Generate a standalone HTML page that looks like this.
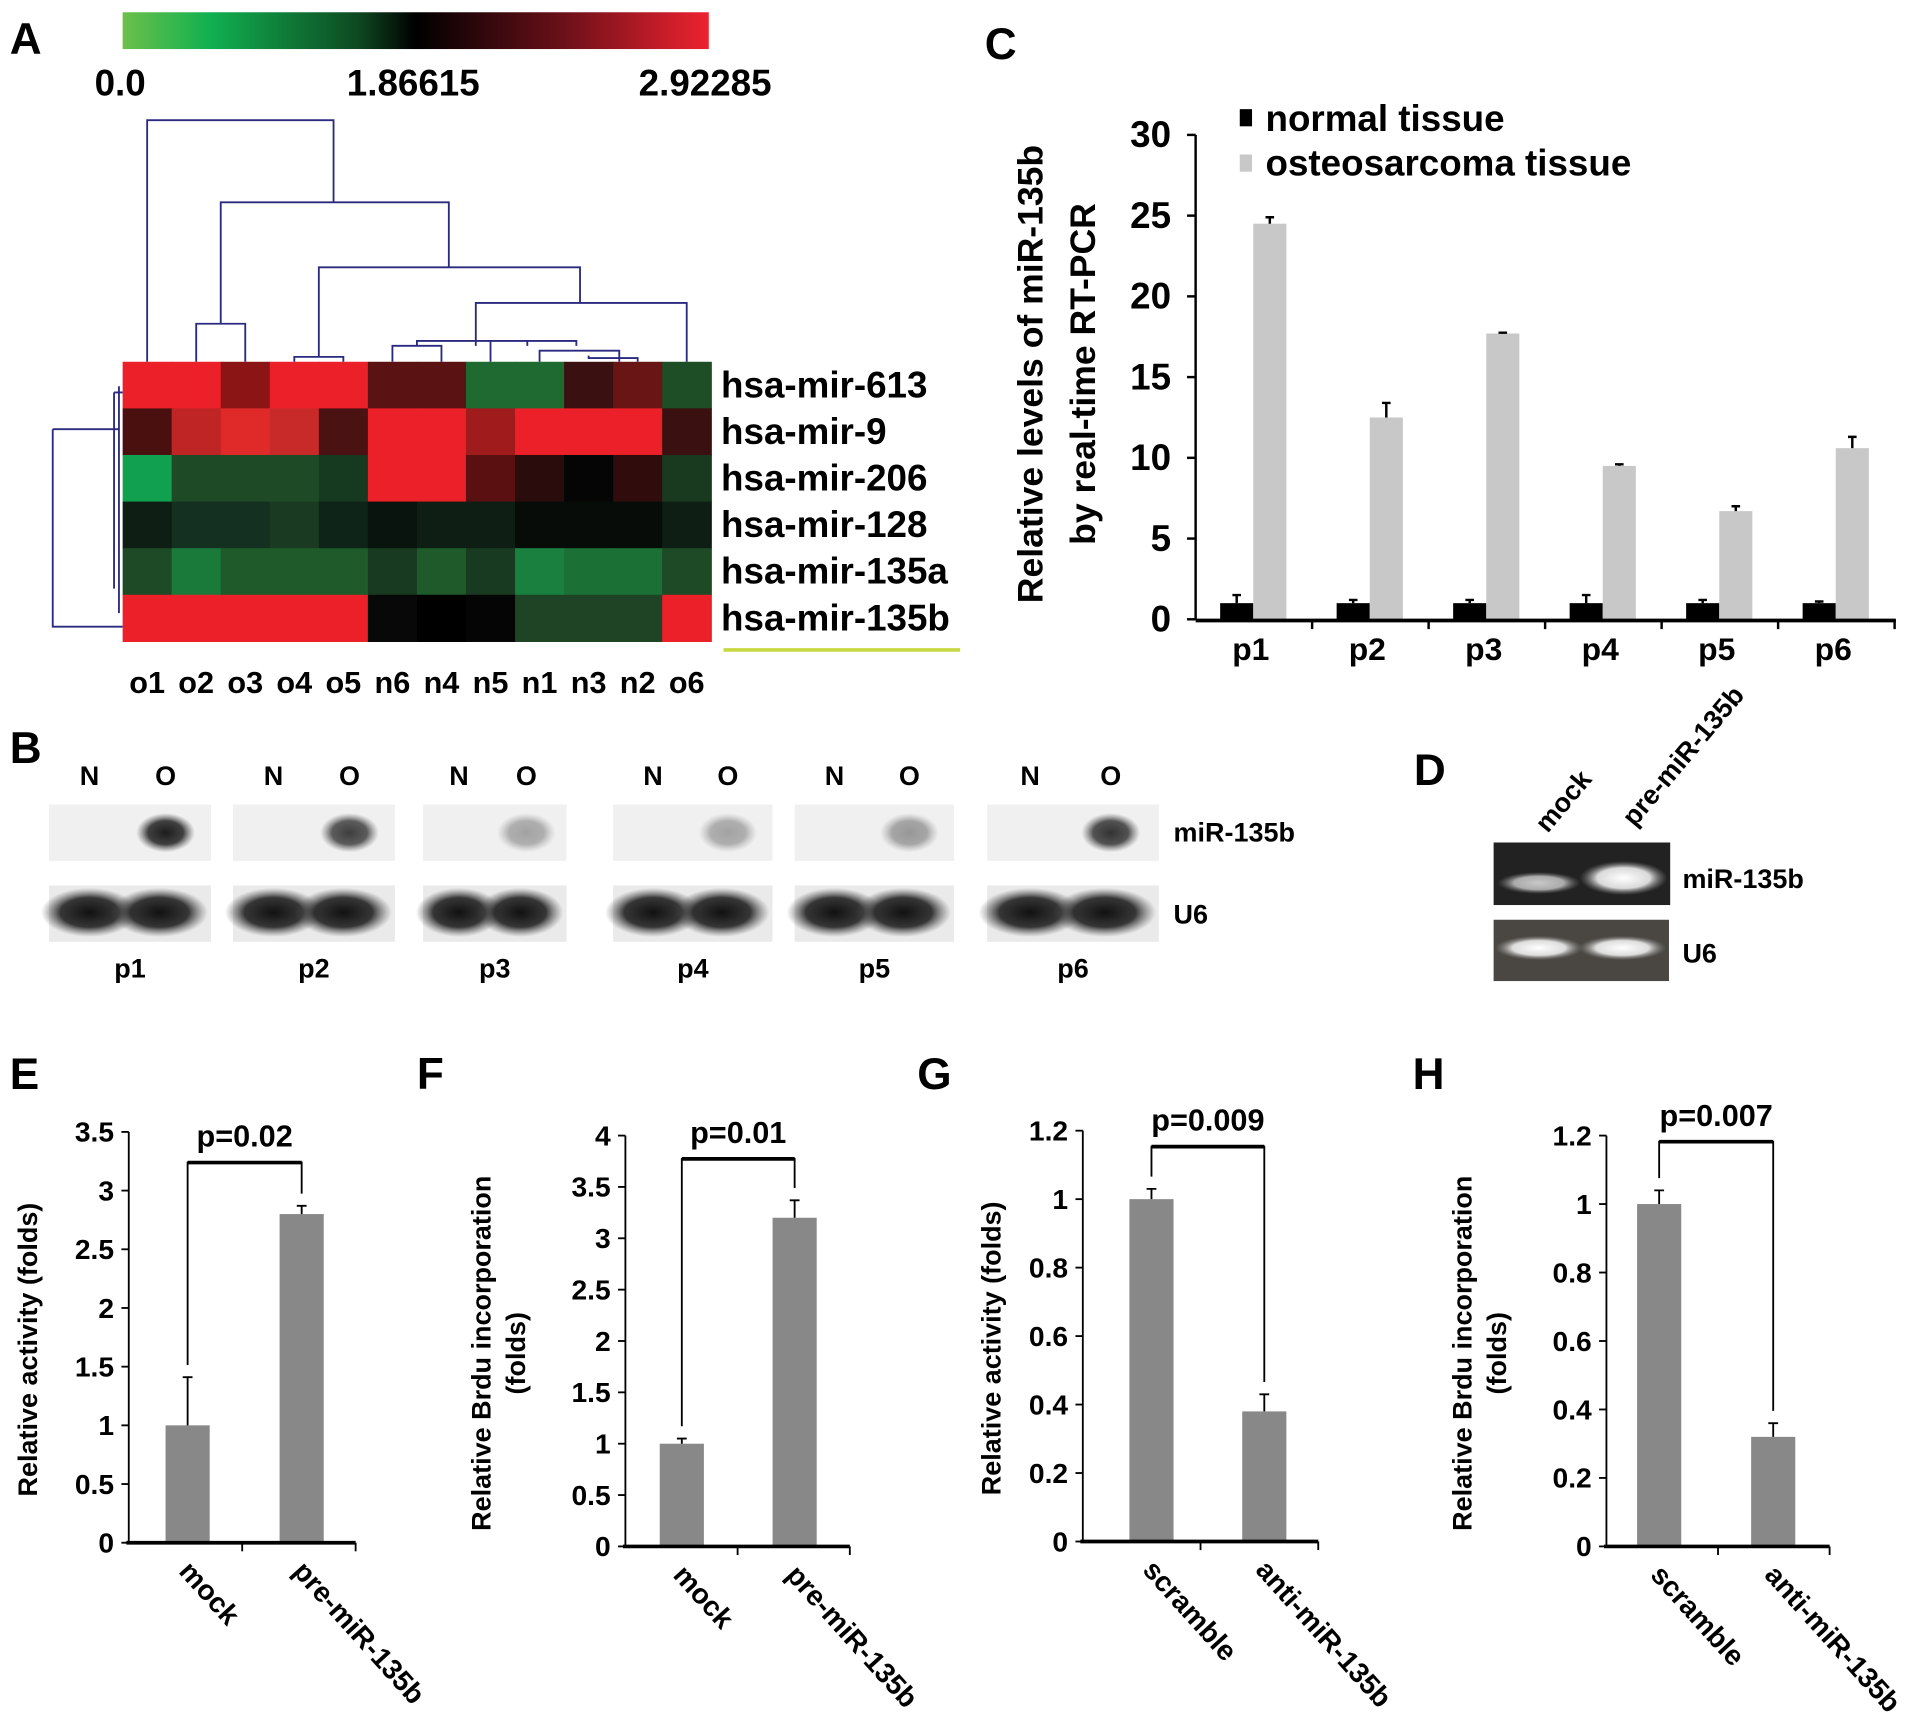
<!DOCTYPE html>
<html><head><meta charset="utf-8">
<style>
html,body{margin:0;padding:0;background:#fff;}
svg{display:block;}
text{font-family:"Liberation Sans Narrow","Liberation Sans",sans-serif;font-weight:bold;fill:#000;}
.w{font-family:"Liberation Sans",sans-serif;}
</style></head>
<body>
<svg id="fig" xmlns="http://www.w3.org/2000/svg" width="1913" height="1723" viewBox="0 0 1560 1405" preserveAspectRatio="none">
<defs>
<linearGradient id="cb" x1="0" x2="1" y1="0" y2="0">
<stop offset="0" stop-color="#6cc04a"/><stop offset="0.15" stop-color="#10b050"/><stop offset="0.4" stop-color="#0e4a22"/><stop offset="0.5" stop-color="#000"/><stop offset="0.75" stop-color="#6a1018"/><stop offset="1" stop-color="#ee2230"/>
</linearGradient>
<radialGradient id="band" cx="0.5" cy="0.5" r="0.5"><stop offset="0" stop-color="#111"/><stop offset="0.6" stop-color="#222" stop-opacity="0.9"/><stop offset="1" stop-color="#555" stop-opacity="0"/></radialGradient>
<radialGradient id="glow" cx="0.5" cy="0.5" r="0.5"><stop offset="0" stop-color="#fff"/><stop offset="0.6" stop-color="#eee" stop-opacity="0.9"/><stop offset="1" stop-color="#888" stop-opacity="0"/></radialGradient>
</defs>

<text x="8" y="44" font-size="36" class="w">A</text>
<text x="803" y="48" font-size="36" class="w">C</text>
<text x="8" y="622" font-size="36" class="w">B</text>
<text x="1153" y="640" font-size="36" class="w">D</text>
<text x="8" y="888" font-size="36" class="w">E</text>
<text x="340" y="888" font-size="36" class="w">F</text>
<text x="748" y="888" font-size="36" class="w">G</text>
<text x="1152" y="888" font-size="36" class="w">H</text>

<rect x="100" y="10" width="478" height="30" fill="url(#cb)"/>
<text x="98" y="78" font-size="30" text-anchor="middle">0.0</text>
<text x="337" y="78" font-size="30" text-anchor="middle">1.86615</text>
<text x="575" y="78" font-size="30" text-anchor="middle">2.92285</text>

<g id="heat"></g>
<g id="dendro" stroke="#2a2a80" stroke-width="1.5" fill="none">
<path d="M120 295V98H272V165 M180 264V165H366V218 M160 295V264H200V295 M260 291V218H473V247 M240 295V291H280V295 M388 282V247H560V295 M320 295V282H360V295 M340 282V278H470V282 M400 295V278 M440 295V286H505V295 M480 290V292H520V295 M430 278V282"/>
<path d="M97 315V500 M43 350H97 M43 350V511H100 M93 320H100 M93 320V480"/>
</g>
<line x1="590" y1="530" x2="783" y2="530" stroke="#c8d840" stroke-width="3"/>

<g id="chartC"></g>
<rect x="1011" y="89" width="10" height="14" fill="#000"/>
<text x="1032" y="107" font-size="30" class="w">normal tissue</text>
<rect x="1011" y="126" width="10" height="14" fill="#c8c8c8"/>
<text x="1032" y="143" font-size="30" class="w">osteosarcoma tissue</text>
<text transform="translate(850,305) rotate(-90)" font-size="29" text-anchor="middle" class="w">Relative levels of miR-135b</text>
<text transform="translate(893,305) rotate(-90)" font-size="29" text-anchor="middle" class="w">by real-time RT-PCR</text>

<g id="blots"></g>
<text x="957" y="686" font-size="22" class="w">miR-135b</text>
<text x="957" y="753" font-size="22" class="w">U6</text>

<g>
<rect x="1218" y="687" width="144" height="51" fill="#222"/>
<ellipse cx="1255" cy="720" rx="34" ry="9" fill="url(#glow)" opacity="0.75"/>
<ellipse cx="1324" cy="716" rx="36" ry="14" fill="url(#glow)"/>
<rect x="1218" y="750" width="143" height="50" fill="#4a4742"/>
<ellipse cx="1255" cy="773" rx="36" ry="10" fill="url(#glow)"/>
<ellipse cx="1323" cy="773" rx="36" ry="10" fill="url(#glow)"/>
</g>
<text transform="translate(1262,680) rotate(-50)" font-size="22" class="w">mock</text>
<text transform="translate(1333,675) rotate(-50)" font-size="22" class="w">pre-miR-135b</text>
<text x="1372" y="724" font-size="22" class="w">miR-135b</text>
<text x="1372" y="785" font-size="22" class="w">U6</text>

<g id="small"></g>
</svg>
<script>
const NS='http://www.w3.org/2000/svg';
function mk(tag,attrs,parent,txt){const e=document.createElementNS(NS,tag);for(const k in attrs)e.setAttribute(k,attrs[k]);if(txt!==undefined)e.textContent=txt;parent.appendChild(e);return e;}

const heatRows=['hsa-mir-613','hsa-mir-9','hsa-mir-206','hsa-mir-128','hsa-mir-135a','hsa-mir-135b'];
const heatCols=['o1','o2','o3','o4','o5','n6','n4','n5','n1','n3','n2','o6'];
const heatColors=[
['#ec2028','#ec2028','#8b1414','#ec2028','#ec2028','#5a1212','#5a1212','#1e6a30','#1e6a30','#3a1010','#6a1515','#1e4e25'],
['#4a1010','#c02525','#e02a2a','#c82a2a','#4a1212','#ec2028','#ec2028','#a01c1c','#ec2028','#ec2028','#ec2028','#3a1010'],
['#10a050','#1e4a25','#1e4a25','#1e4a25','#163a20','#ec2028','#ec2028','#5a1010','#2a0c0c','#050505','#300c0c','#1a3a20'],
['#0e1e14','#143020','#143020','#1a3a22','#0e2418','#0a140e','#0e1e14','#0e1e14','#080c08','#080c08','#080c08','#0e1e14'],
['#1e4a25','#1a7a3a','#1e5a2a','#1e5a2a','#1e5a2a','#183a20','#1e5a2a','#183a20','#1a8040','#1a7035','#1a7035','#1e4a25'],
['#ec2028','#ec2028','#ec2028','#ec2028','#ec2028','#080808','#000000','#050505','#1e4425','#1e4425','#1e4425','#ec2028']];
const heat=document.getElementById('heat');
const hx=i=>100+i*40, hy=j=>295+j*38;
heatRows.forEach((r,j)=>{
  heatCols.forEach((c,i)=>{
    const e=mk('rect',{x:hx(i),y:hy(j),width:40.5,height:38.5,fill:heatColors[j][i]},heat);
    
    
  });
  const t=mk('text',{x:588,y:hy(j)+29,'font-size':30},heat,r);
  
  
});
heatCols.forEach((c,i)=>{
  const t=mk('text',{x:hx(i)+20,y:565,'font-size':25,'text-anchor':'middle'},heat,c);
  
  
});

const cCats=['p1','p2','p3','p4','p5','p6'];
const cNormal=[1,1,1,1,1,1];
const cNormalErr=[0.5,0.2,0.2,0.5,0.2,0.1];
const cOsteo=[24.5,12.5,17.7,9.5,6.7,10.6];
const cOsteoErr=[0.4,0.9,0.05,0.1,0.3,0.7];
const cTicks=[0,5,10,15,20,25,30];
const C=document.getElementById('chartC');
const cy=v=>505-v*(395/30);
const cx0=975, cgw=95;
cTicks.forEach(t=>{
  mk('line',{x1:968,x2:975,y1:cy(t),y2:cy(t),stroke:'#000','stroke-width':2},C);
  const e=mk('text',{x:955,y:cy(t)+10,'font-size':30,'text-anchor':'end'},C,String(t));
  
  
});
mk('line',{x1:975,x2:975,y1:cy(30),y2:505,stroke:'#000','stroke-width':2},C);
cCats.forEach((c,i)=>{
  const g=cx0+i*cgw;
  const b1=mk('rect',{x:g+20,y:cy(cNormal[i]),width:27,height:505-cy(cNormal[i]),fill:'#000'},C);
  
  
  mk('path',{d:`M${g+33.5} ${cy(cNormal[i])}V${cy(cNormal[i]+cNormalErr[i])} M${g+30} ${cy(cNormal[i]+cNormalErr[i])}H${g+37}`,stroke:'#000','stroke-width':2,fill:'none'},C);
  const b2=mk('rect',{x:g+47,y:cy(cOsteo[i]),width:27,height:505-cy(cOsteo[i]),fill:'#c8c8c8'},C);
  
  
  mk('path',{d:`M${g+60.5} ${cy(cOsteo[i])}V${cy(cOsteo[i]+cOsteoErr[i])} M${g+57} ${cy(cOsteo[i]+cOsteoErr[i])}H${g+64}`,stroke:'#000','stroke-width':2,fill:'none'},C);
  mk('line',{x1:g+cgw,x2:g+cgw,y1:505,y2:513,stroke:'#000','stroke-width':2},C);
  const t=mk('text',{x:g+45,y:538,'font-size':26,'text-anchor':'middle'},C,c);
  
  
});
mk('line',{x1:975,x2:1546,y1:506,y2:506,stroke:'#000','stroke-width':3},C);

const blotPatients=['p1','p2','p3','p4','p5','p6'];
const blotSignal=[0.95,0.8,0.35,0.35,0.4,0.85];
const blotX=[[40,172],[190,322],[345,462],[500,630],[648,778],[805,945]];
const B=document.getElementById('blots');
blotPatients.forEach((p,i)=>{
  const [a,b]=blotX[i], w=b-a, nx=a+w*0.25, ox=a+w*0.72;
  mk('rect',{x:a,y:656,width:w,height:46,fill:'#f0f0f0'},B);
  mk('ellipse',{cx:ox,cy:679,rx:24,ry:16,fill:'url(#band)',opacity:blotSignal[i]},B);
  mk('rect',{x:a,y:722,width:w,height:46,fill:'#eaeaea'},B);
  mk('ellipse',{cx:nx,cy:744,rx:w*0.3,ry:20,fill:'url(#band)'},B);
  mk('ellipse',{cx:ox-5,cy:744,rx:w*0.3,ry:20,fill:'url(#band)'},B);
  const n=mk('text',{x:a+w*0.25,y:640,'font-size':22,'text-anchor':'middle'},B,'N');
  
  
  const o=mk('text',{x:a+w*0.72,y:640,'font-size':22,'text-anchor':'middle'},B,'O');
  
  
  const l=mk('text',{x:(a+b)/2,y:797,'font-size':22,'text-anchor':'middle'},B,p);
  
  
});

const eCats=['mock','pre-miR-135b'], eVals=[1,2.8], eErr=[0.41,0.07], eTicks=['0','0.5','1','1.5','2','2.5','3','3.5'];
const fCats=['mock','pre-miR-135b'], fVals=[1,3.2], fErr=[0.05,0.17], fTicks=['0','0.5','1','1.5','2','2.5','3','3.5','4'];
const gCats=['scramble','anti-miR-135b'], gVals=[1,0.38], gErr=[0.03,0.05], gTicks=['0','0.2','0.4','0.6','0.8','1','1.2'];
const hCats=['scramble','anti-miR-135b'], hVals=[1,0.32], hErr=[0.04,0.04], hTicks=['0','0.2','0.4','0.6','0.8','1','1.2'];
const pTexts=['p=0.02','p=0.01','p=0.009','p=0.007'];
const panels=[
 {id:'e',cats:eCats,vals:eVals,err:eErr,ticks:eTicks,ax:105,y0:1258,yTop:923,max:3.5,xEnd:290,bx:[135,228],brY:948,title:['Relative activity (folds)'],tx:[30]},
 {id:'f',cats:fCats,vals:fVals,err:fErr,ticks:fTicks,ax:510,y0:1261,yTop:926,max:4,xEnd:693,bx:[538,630],brY:945,title:['Relative Brdu incorporation','(folds)'],tx:[400,428]},
 {id:'g',cats:gCats,vals:gVals,err:gErr,ticks:gTicks,ax:883,y0:1257,yTop:922,max:1.2,xEnd:1075,bx:[921,1013],brY:935,title:['Relative activity (folds)'],tx:[816]},
 {id:'h',cats:hCats,vals:hVals,err:hErr,ticks:hTicks,ax:1310,y0:1261,yTop:926,max:1.2,xEnd:1492,bx:[1335,1428],brY:931,title:['Relative Brdu incorporation','(folds)'],tx:[1200,1228]}
];
const S=document.getElementById('small');
panels.forEach((P,pi)=>{
  const g=mk('g',{},S);
  
  
  const y=v=>P.y0-(v/P.max)*(P.y0-P.yTop);
  mk('line',{x1:P.ax,x2:P.ax,y1:P.yTop,y2:P.y0,stroke:'#000','stroke-width':1.5},g);
  P.ticks.forEach(t=>{
    const v=parseFloat(t);
    mk('line',{x1:P.ax-6,x2:P.ax,y1:y(v),y2:y(v),stroke:'#000','stroke-width':1.5},g);
    const e=mk('text',{x:P.ax-12,y:y(v)+8,'font-size':23,'text-anchor':'end'},g,t);
    
    
  });
  const tops=[];
  P.cats.forEach((c,i)=>{
    const bx=P.bx[i], top=y(P.vals[i]), et=y(P.vals[i]+P.err[i]);
    const r=mk('rect',{x:bx,y:top,width:36,height:P.y0-top,fill:'#888'},g);
    
    
    mk('path',{d:`M${bx+18} ${top}V${et} M${bx+14} ${et}H${bx+22}`,stroke:'#000','stroke-width':1.5,fill:'none'},g);
    tops.push(et-10);
    const t=mk('text',{transform:`translate(${bx+10},${P.y0+24}) rotate(48)`,'font-size':23},g,c);
    
    
  });
  const mid=(P.ax+P.xEnd)/2;
  mk('line',{x1:mid,x2:mid,y1:P.y0,y2:P.y0+7,stroke:'#000','stroke-width':1.5},g);
  mk('line',{x1:P.xEnd,x2:P.xEnd,y1:P.y0,y2:P.y0+7,stroke:'#000','stroke-width':1.5},g);
  mk('line',{x1:P.ax-2,x2:P.xEnd,y1:P.y0,y2:P.y0,stroke:'#000','stroke-width':3},g);
  const l=P.bx[0]+18, r2=P.bx[1]+18;
  mk('path',{d:`M${l} ${tops[0]}V${P.brY}H${r2}V${tops[1]}`,stroke:'#000','stroke-width':1.5,fill:'none'},g);
  mk('line',{x1:l,x2:r2,y1:P.brY,y2:P.brY,stroke:'#000','stroke-width':3},g);
  const pt=mk('text',{x:(l+r2)/2,y:P.brY-13,'font-size':25,'text-anchor':'middle'},g,pTexts[pi]);
  
  
  const cyMid=(P.yTop+P.y0)/2+10;
  P.title.forEach((tt,k)=>{
    const t=mk('text',{transform:`translate(${P.tx[k]},${cyMid}) rotate(-90)`,'font-size':22,'text-anchor':'middle',class:'w'},g,tt);
    
    
  });
});
</script>
</body></html>
